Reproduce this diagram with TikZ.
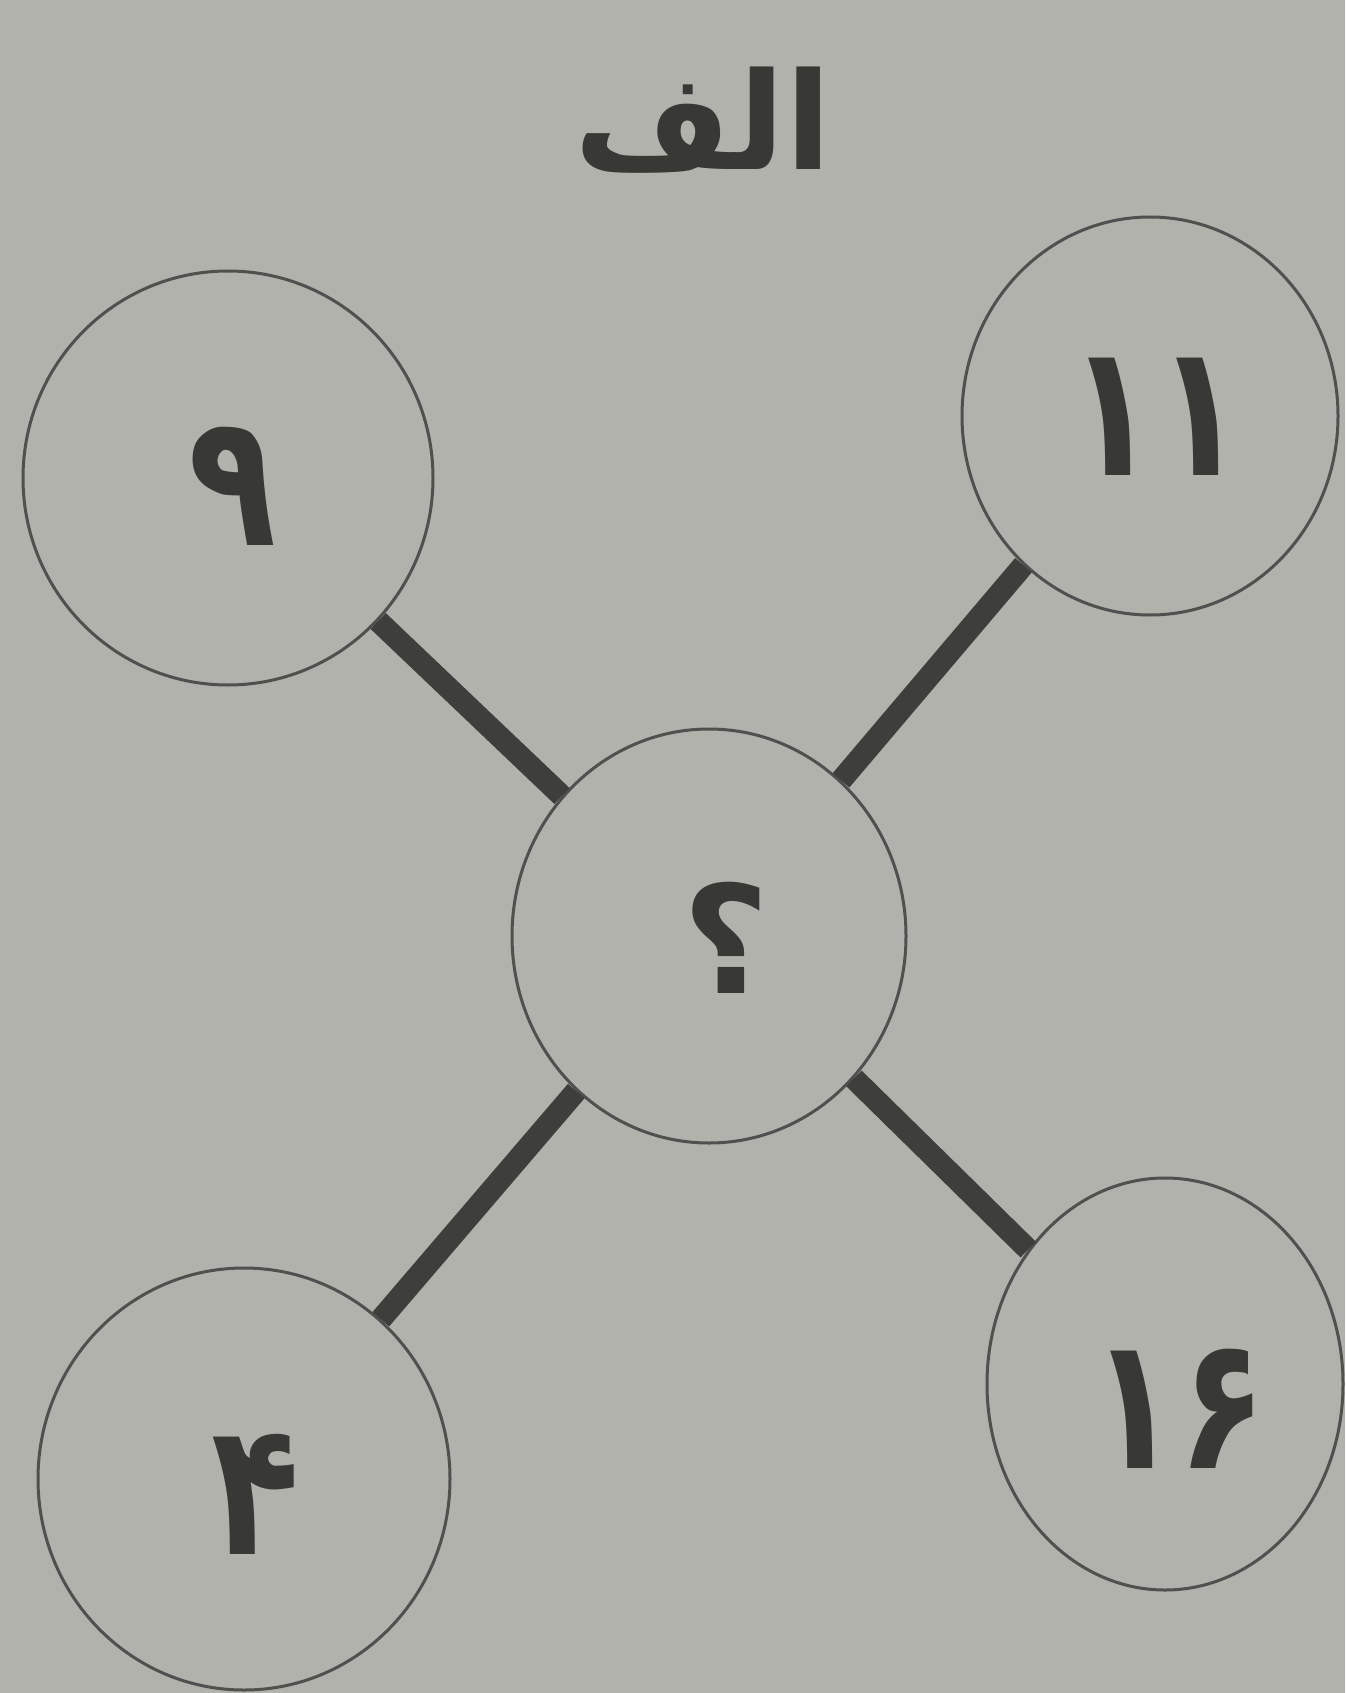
\documentclass[tikz,border=0pt]{standalone}
\usepackage{fontspec}
\newfontfamily\arabicfont[Script=Arabic]{DejaVu Sans}
\newfontfamily\digitfont[FakeStretch=0.78]{DejaVu Sans}
\TeXXeTstate=1
\usetikzlibrary{shapes.geometric}
\definecolor{bg}{RGB}{177,178,172}
\definecolor{ink}{RGB}{56,56,53}
\definecolor{lnk}{RGB}{62,62,58}
\definecolor{rim}{RGB}{80,80,78}
\tikzset{
  ball/.style={draw=rim, line width=3pt, ellipse, inner sep=0pt},
  num/.style={text=ink, font=\digitfont\bfseries\fontsize{185}{185}\selectfont, inner sep=0pt, anchor=base},
  link/.style={draw=lnk, line width=22pt},
}
\begin{document}
\begin{tikzpicture}[x=1pt,y=-1pt]
  \fill[bg] (0,0) rectangle (1345,1693);
  \useasboundingbox (0,0) rectangle (1345,1693);
  \node[text=ink, font=\arabicfont\bfseries\fontsize{135}{135}\selectfont, inner sep=0pt] (title) at (703,120) {\beginR الف\endR};
  \node[ball, minimum width=410pt, minimum height=414pt] (tl) at (228,478) {};
  \node[ball, minimum width=376pt, minimum height=398pt] (tr) at (1150,416) {};
  \node[ball, minimum width=394pt, minimum height=414pt] (c) at (709,936) {};
  \node[ball, minimum width=412pt, minimum height=422pt] (bl) at (244,1479) {};
  \node[ball, minimum width=356pt, minimum height=412pt] (br) at (1165,1384) {};
  \draw[link] (tl) -- (c);
  \draw[link] (tr) -- (c);
  \draw[link] (bl) -- (c);
  \draw[link] (br) -- (c);
  \node[num] (ntl) at (233,545) {۹};
  \node[num] (ntr) at (1157,475) {۱۱};
  \node[num, font=\arabicfont\bfseries\fontsize{150}{150}\selectfont] (nc) at (726,993) {؟};
  \node[num] (nbl) at (256,1554) {۴};
  \node[num] (nbr) at (1179,1468) {۱۶};
\end{tikzpicture}
\end{document}
